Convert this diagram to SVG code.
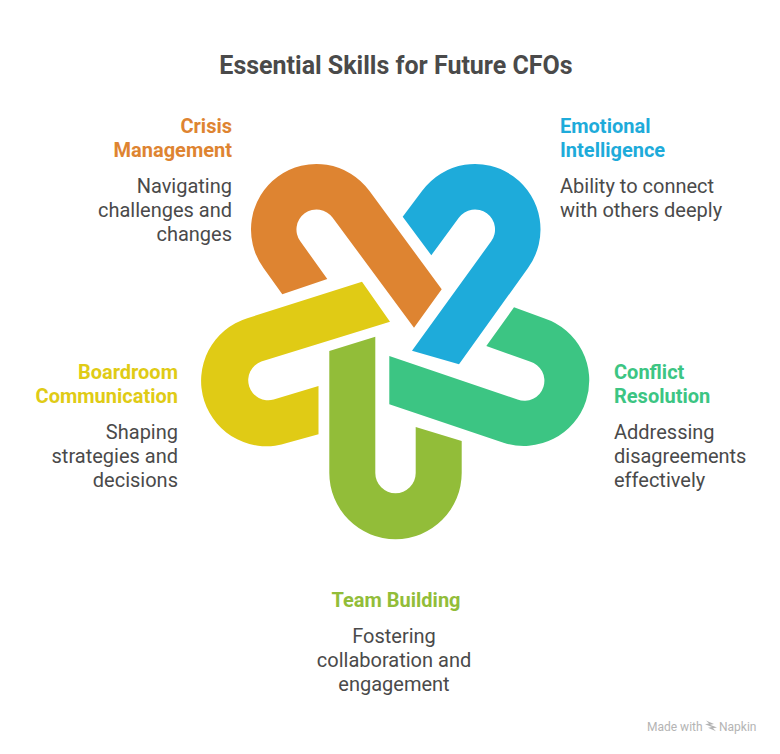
<svg xmlns="http://www.w3.org/2000/svg" width="780" height="754" viewBox="0 0 780 754">
<style>
text{font-family:Roboto,"Liberation Sans",sans-serif;font-size:20px;fill:#4a4a4a}
.h{font-weight:700}
.r{text-anchor:end}
.m{text-anchor:middle}
.f{font-size:12px;fill:#b4b4b4}
.o{fill:#DE8431}.b{fill:#1EABDA}.t{fill:#3CC583}.l{fill:#92BD39}.y{fill:#E0CB15}
</style>
<rect width="780" height="754" fill="#fff"/>
<text id="title" x="396" y="74" class="m" style="font-size:25px;font-weight:700">Essential Skills for Future CFOs</text>
<g id="crisis">
<path class="o" d="M282.3,294.3L263.5,268A65.5,65.5 0 1 1 369.5,191L441.7,289.3L414,327.7L332.7,217.7A20,20 0 1 0 300.3,241.3L327.3,279Z"/>
<text x="232" y="133" class="h r o">Crisis</text>
<text x="232" y="157" class="h r o">Management</text>
<text x="232" y="193" class="r">Navigating</text>
<text x="232" y="217" class="r">challenges and</text>
<text x="232" y="241" class="r">changes</text>
</g>
<g id="emotional">
<path class="b" d="M402.7,216.7L422,191A65.5,65.5 0 1 1 528,268L459,364.3L412,350.7L491.2,241.3A20,20 0 1 0 458.8,217.7L431.3,255.3Z"/>
<text x="560" y="133" class="h b">Emotional</text>
<text x="560" y="157" class="h b">Intelligence</text>
<text x="560" y="193">Ability to connect</text>
<text x="560" y="217">with others deeply</text>
</g>
<g id="conflict">
<path class="t" d="M514,307.3L544,318.2A65.5,65.5 0 1 1 503.5,442.8L389.3,404.3V356L517.5,399.5A20,20 0 1 0 529.9,361.5L486.3,346Z"/>
<text x="614" y="379" class="h t">Conflict</text>
<text x="614" y="403" class="h t">Resolution</text>
<text x="614" y="439">Addressing</text>
<text x="614" y="463">disagreements</text>
<text x="614" y="487">effectively</text>
</g>
<g id="team">
<path class="l" d="M329.3,351L375.3,336.7V473A20.2,20.2 0 0 0 415.7,473V427L461.7,441V473A66.2,66.2 0 0 1 329.3,473Z"/>
<text x="396" y="607" class="h m l">Team Building</text>
<text x="394" y="643" class="m">Fostering</text>
<text x="394" y="667" class="m">collaboration and</text>
<text x="394" y="691" class="m">engagement</text>
</g>
<g id="boardroom">
<path class="y" d="M362,281.7L247.3,318.2A65.5,65.5 0 1 0 287.7,442.8L318.5,434.3V386L273.7,399.5A20,20 0 0 1 261.3,361.5L390,321.7Z"/>
<text x="178" y="379" class="h r y">Boardroom</text>
<text x="178" y="403" class="h r y">Communication</text>
<text x="178" y="439" class="r">Shaping</text>
<text x="178" y="463" class="r">strategies and</text>
<text x="178" y="487" class="r">decisions</text>
</g>
<g id="connectors"/>
<g id="footer">
<text x="647" y="731" class="f">Made with</text>
<path d="M706,720.5l8,3.5-4,.8 7,2.7-4,.8 3,3-8-3.5 4-.8-7-2.7 4-.8z" fill="#b4b4b4"/>
<text x="719" y="731" class="f">Napkin</text>
</g>
</svg>
